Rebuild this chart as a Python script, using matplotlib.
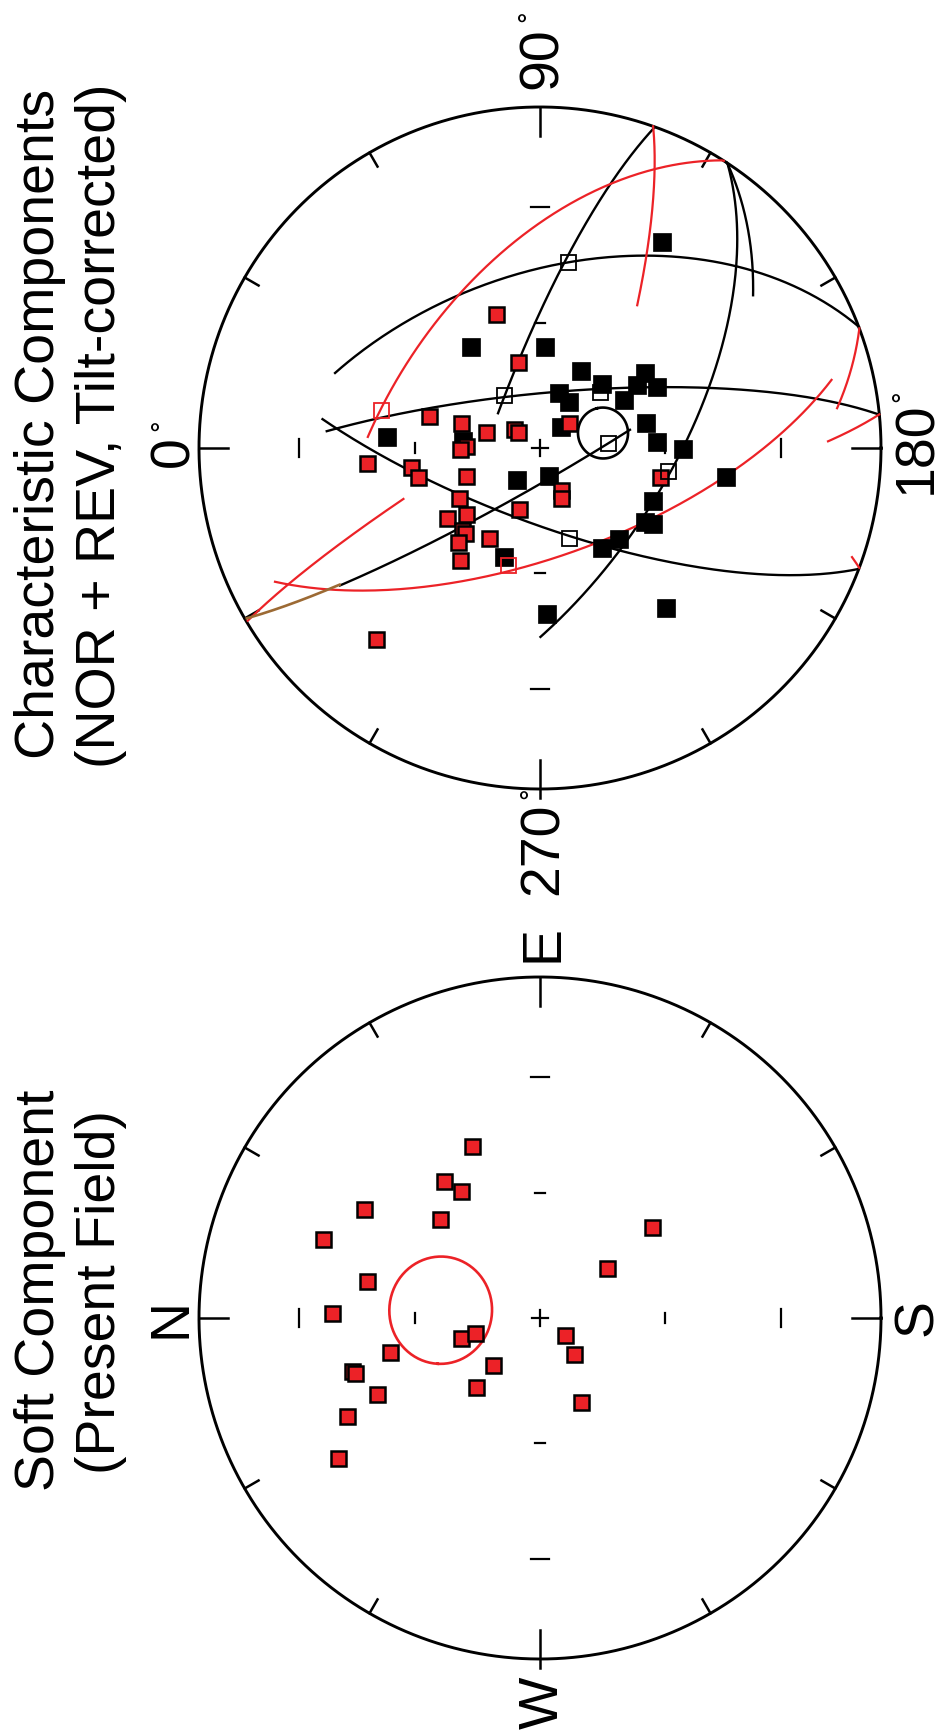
import numpy as np
import matplotlib
matplotlib.use("Agg")
import matplotlib.pyplot as plt

plt.rcParams["font.family"] = ["Liberation Sans", "DejaVu Sans"]

RED = "#ec2227"
BROWN = "#9c6a34"

# All directions are given as equal-area (Schmidt) net coordinates,
# lower hemisphere, unit primitive: east and north components.

# Soft component (present field)
soft_e = [0.504, 0.402, 0.372, 0.320, 0.290, 0.232, 0.267, 0.147, 0.109, 0.015, -0.059, -0.044,
          -0.100, -0.155, -0.161, -0.138, -0.223, -0.202, -0.287, -0.411, -0.050, -0.106, -0.246]
soft_n = [0.199, 0.282, 0.232, 0.516, 0.293, 0.636, -0.328, -0.196, 0.507, 0.610, 0.232, 0.191,
          0.440, 0.551, 0.543, 0.138, 0.478, 0.188, 0.566, 0.592, -0.073, -0.100, -0.120]
soft_mean = (0.023, 0.293)
soft_a95 = 12.5

# Characteristic components, normal polarity sites
nor_e = [0.393, 0.252, 0.094, 0.073, 0.047, 0.056, 0.047, 0.006, -0.003, -0.044, -0.056, -0.085,
         -0.082, -0.147, -0.194, -0.205, -0.179, -0.240, -0.249, -0.276, -0.264, -0.328, -0.560,
         0.073, -0.123, -0.147, -0.085]
nor_n = [0.129, 0.065, 0.326, 0.232, 0.158, 0.076, 0.065, 0.217, 0.235, 0.507, 0.378, 0.358,
         0.217, 0.238, 0.217, 0.273, 0.062, 0.229, 0.220, 0.240, 0.150, 0.235, 0.481,
         -0.085, -0.062, -0.062, -0.352]
nor_open_e = [0.111, -0.343]
nor_open_n = [0.466, 0.094]

# Characteristic components, reversed polarity sites
rev_e = [0.296, 0.296, 0.226, 0.188, 0.161, 0.135, 0.141, 0.185, 0.220, 0.179, 0.062, 0.073,
         0.018, -0.003, 0.032, 0.021, -0.094, -0.082, -0.320, -0.487, -0.155, -0.217, -0.223,
         -0.267, -0.293, -0.469, -0.085, 0.604]
rev_n = [0.202, -0.015, -0.120, -0.182, -0.056, -0.085, -0.246, -0.284, -0.308, -0.343, -0.062,
         -0.311, -0.343, -0.419, 0.449, 0.226, 0.067, -0.026, 0.106, -0.021, -0.331, -0.308,
         -0.331, -0.232, -0.182, -0.370, -0.545, -0.358]
rev_open_e = [0.545, 0.155, 0.164, 0.015, -0.067, -0.264]
rev_open_n = [-0.082, 0.106, -0.176, -0.199, -0.375, -0.085]

char_mean = (0.044, -0.185)
char_a95 = 6.0

# remagnetisation circles: points along each arc, start -> end
rev_arcs = [
    ([0.947, 0.545, 0.155, 0.103], [-0.331, -0.082, 0.106, 0.126]),
    ([0.220, 0.472, 0.566, 0.355], [0.601, 0.176, -0.293, -0.938]),
    ([0.842, 0.531, 0.015, -0.217, -0.548], [-0.543, -0.578, -0.419, -0.308, 0.006]),
    ([0.842, 0.689, 0.449], [-0.543, -0.607, -0.622]),
    ([0.047, 0.152, 0.176, 0.097], [0.625, 0.106, -0.293, -0.997]),
    ([0.082, -0.132, -0.299, -0.358], [0.639, 0.240, -0.226, -0.938]),
    ([0.053, -0.091, -0.240, -0.402], [-0.264, -0.021, 0.240, 0.587]),
]
nor_arcs = [
    ([0.842, 0.683, 0.455, 0.111, 0.032], [-0.543, -0.029, 0.235, 0.466, 0.504]),
    ([0.947, 0.786, 0.572, 0.419], [-0.331, -0.337, -0.314, -0.284]),
    ([0.352, 0.238, 0.117], [-0.938, -0.915, -0.871]),
    ([0.208, 0.000, -0.255, -0.343, -0.408, -0.393], [-0.850, -0.625, -0.314, 0.094, 0.595, 0.777]),
    ([-0.147, -0.320, -0.504], [0.402, 0.630, 0.859]),
    ([0.097, 0.058, 0.018], [-0.997, -0.918, -0.845]),
    ([-0.320, -0.352], [-0.915, -0.938]),
]
brown_arc = ([-0.402, -0.455, -0.501], [0.587, 0.733, 0.859])


def to_vec(e, n):
    """Net point -> unit vector (north, east, down)."""
    rr = np.hypot(e, n)
    if rr == 0:
        return np.array([0.0, 0.0, 1.0])
    r = min(rr, 1.0)
    down = 1.0 - r * r
    h = np.sqrt(max(1.0 - down * down, 0.0))
    return np.array([n * h / rr, e * h / rr, down])


def to_net(v):
    v = np.atleast_2d(v)
    v = v / np.linalg.norm(v, axis=1, keepdims=True)
    down = np.clip(v[:, 2], 0.0, 1.0)
    r = np.sqrt(1.0 - down)
    h = np.hypot(v[:, 0], v[:, 1])
    h[h == 0] = 1.0
    return v[:, 1] * r / h, v[:, 0] * r / h


def great_arc(e_pts, n_pts, num=200):
    V = np.array([to_vec(e, n) for e, n in zip(e_pts, n_pts)])
    pole = np.linalg.svd(V)[2][-1]
    u = V[0] - (V[0] @ pole) * pole
    u /= np.linalg.norm(u)
    w = np.cross(pole, u)
    ang = np.unwrap(np.arctan2(V @ w, V @ u))
    t = np.linspace(ang[0], ang[-1], num)
    return to_net(np.outer(np.cos(t), u) + np.outer(np.sin(t), w))


def small_circle(e, n, a95, num=160):
    m = to_vec(e, n)
    p1 = np.cross(m, [0.0, 0.0, 1.0])
    p1 /= np.linalg.norm(p1)
    p2 = np.cross(m, p1)
    a = np.radians(a95)
    t = np.linspace(0, 2 * np.pi, num)
    P = np.cos(a) * m + np.sin(a) * (np.outer(np.cos(t), p1) + np.outer(np.sin(t), p2))
    return to_net(P)


def put(ax, e, n, *args, **kw):
    # north points left, east points up on the page
    ax.plot(-np.asarray(n), np.asarray(e), *args, **kw)


def draw_net(ax):
    t = np.linspace(0, 2 * np.pi, 500)
    ax.plot(np.cos(t), np.sin(t), color="k", lw=2.1, zorder=1)
    for az in range(0, 360, 30):
        a = np.radians(az)
        r0, r1 = (0.915, 1.0) if az % 90 == 0 else (0.953, 1.0)
        if az == 270:
            r1 = 1.025
        put(ax, [r0 * np.sin(a), r1 * np.sin(a)], [r0 * np.cos(a), r1 * np.cos(a)],
            color="k", lw=1.8, zorder=1)
    for inc, half in ((30, 0.027), (60, 0.016)):
        r = np.sqrt(1 - np.sin(np.radians(inc)))
        for s in (-1, 1):
            put(ax, [-half, half], [s * r, s * r], color="k", lw=1.6, zorder=1)
            put(ax, [s * r, s * r], [-half, half], color="k", lw=1.6, zorder=1)
    put(ax, [-0.024, 0.024], [0, 0], color="k", lw=1.6, zorder=1)
    put(ax, [0, 0], [-0.024, 0.024], color="k", lw=1.6, zorder=1)
    ax.set_xlim(-1.2, 1.2)
    ax.set_ylim(-1.2, 1.2)
    ax.axis("off")


W, H, R = 947, 1732, 341


def net_axes(fig, cx, cy):
    s = 1.2 * R
    return fig.add_axes([(cx - s) / W, (H - cy - s) / H, 2 * s / W, 2 * s / H])


fig = plt.figure(figsize=(W / 100, H / 100), dpi=100, facecolor="white")

red_sq = dict(marker="s", ls="none", ms=10.8, mfc=RED, mec="k", mew=1.8)
black_sq = dict(marker="s", ls="none", ms=12.3, mfc="k", mec="k", mew=0.5)
open_sq = dict(marker="s", ls="none", ms=10.8, mfc="none", mew=1.3)

# characteristic components net
ax1 = net_axes(fig, 540, 448)
draw_net(ax1)
for e_pts, n_pts in rev_arcs:
    ee, nn = great_arc(e_pts, n_pts)
    put(ax1, ee, nn, color="k", lw=1.7, zorder=2)
for e_pts, n_pts in nor_arcs:
    ee, nn = great_arc(e_pts, n_pts)
    put(ax1, ee, nn, color=RED, lw=1.6, zorder=2)
ee, nn = great_arc(*brown_arc)
put(ax1, ee, nn, color=BROWN, lw=1.9, zorder=2)
put(ax1, rev_e, rev_n, zorder=3, **black_sq)
put(ax1, nor_e, nor_n, zorder=4, **red_sq)
put(ax1, rev_open_e, rev_open_n, mec="k", zorder=5, **open_sq)
put(ax1, nor_open_e, nor_open_n, mec=RED, zorder=5, **open_sq)
ee, nn = small_circle(*char_mean, char_a95)
put(ax1, ee, nn, color="k", lw=1.9, zorder=5)

# soft component net
ax2 = net_axes(fig, 540, 1318)
draw_net(ax2)
ee, nn = small_circle(*soft_mean, soft_a95)
put(ax2, ee, nn, color=RED, lw=1.9, zorder=2)
put(ax2, soft_e, soft_n, zorder=4, **red_sq)

# labels, written sideways
tx = fig.add_axes([0, 0, 1, 1])
tx.set_xlim(0, W)
tx.set_ylim(H, 0)
tx.axis("off")
tx.patch.set_visible(False)

lab = dict(rotation=90, rotation_mode="anchor", ha="center", va="baseline", fontsize=40)


def deg(x, y):
    tx.text(x + 17.5, y, "\u00b0", rotation=90, rotation_mode="anchor",
            ha="center", va="baseline", fontsize=21)


tx.text(54, 424, "Characteristic Components", **lab)
tx.text(115, 426, "(NOR + REV, Tilt-corrected)", **lab)
tx.text(54, 1290, "Soft Component", **lab)
tx.text(115, 1292, "(Present Field)", **lab)

tx.text(557, 58, "90", **lab)
deg(520, 16)
tx.text(188, 452, "0", **lab)
deg(153, 425)
tx.text(931, 448, "180", **lab)
deg(894, 396)
tx.text(558, 849, "270", **lab)
deg(522, 793)

tx.text(558, 943, "E", **lab)
tx.text(558, 1703, "W", **lab)
tx.text(186, 1318, "N", **lab)
tx.text(932, 1318, "S", **lab)

fig.savefig("out.png", dpi=100, facecolor="white")
plt.close(fig)
